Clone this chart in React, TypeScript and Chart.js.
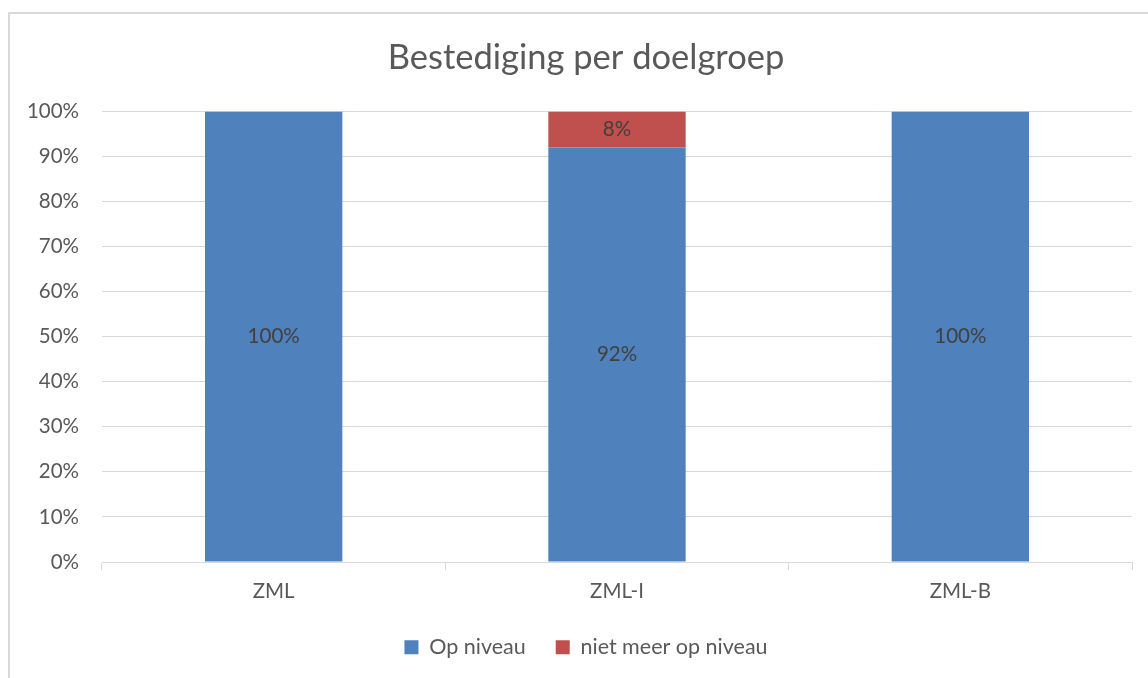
import React, { useEffect, useRef } from "react";
import { Chart, registerables } from "chart.js";

Chart.register(...registerables);

const categories = ["ZML", "ZML-I", "ZML-B"];
const opNiveau = [100, 92, 100];
const nietMeerOpNiveau = [0, 8, 0];
const seriesNames = ["Op niveau", "niet meer op niveau"];
const chartTitle = "Bestediging per doelgroep";

const FONT = "Lato, 'Open Sans', sans-serif";
const TEXT = "#595959";
const GRID = "#d9d9d9";
const FS = 20.5;

const valueLabels = {
  id: "valueLabels",
  afterDatasetsDraw(chart: any) {
    const ctx = chart.ctx;
    ctx.save();
    ctx.font = `${FS}px ${FONT}`;
    ctx.fillStyle = "#404040";
    ctx.textAlign = "center";
    ctx.textBaseline = "middle";
    chart.data.datasets.forEach((ds: any, di: number) => {
      const meta = chart.getDatasetMeta(di);
      meta.data.forEach((el: any, i: number) => {
        const v = ds.data[i];
        if (!v) return;
        ctx.fillText(Math.round(v) + "%", el.x, (el.y + el.base) / 2);
      });
    });
    ctx.restore();
  },
};

export default function App() {
  const ref = useRef<HTMLCanvasElement | null>(null);
  useEffect(() => {
    if (!ref.current) return;
    const chart = new Chart(ref.current, {
      type: "bar",
      data: {
        labels: categories,
        datasets: [
          { label: seriesNames[0], data: opNiveau, backgroundColor: "#4f81bd", barPercentage: 0.4, categoryPercentage: 1 },
          { label: seriesNames[1], data: nietMeerOpNiveau, backgroundColor: "#c0504d", barPercentage: 0.4, categoryPercentage: 1 },
        ],
      },
      options: {
        responsive: false,
        animation: false,
        layout: { padding: { left: 0, right: 0, top: 0, bottom: 10 } },
        plugins: {
          title: {
            display: true,
            text: chartTitle,
            color: TEXT,
            font: { family: FONT, size: 34.5, weight: "normal" },
            padding: { top: 37, bottom: 33 },
          },
          legend: {
            position: "bottom",
            labels: {
              color: TEXT,
              font: { family: FONT, size: 21.5 },
              boxWidth: 14,
              boxHeight: 14,
              padding: 30,
            },
          },
          tooltip: { enabled: false },
        },
        scales: {
          x: {
            stacked: true,
            offset: true,
            grid: { offset: true, drawOnChartArea: false, drawTicks: true, tickLength: 8, color: GRID },
            border: { color: GRID, width: 1 },
            ticks: { color: TEXT, font: { family: FONT, size: FS }, padding: 9 },
            afterFit: (s: any) => { s.height = 44.5; },
          },
          y: {
            stacked: true,
            min: 0,
            max: 100,
            grid: { color: GRID, drawTicks: false },
            border: { display: false },
            ticks: {
              stepSize: 10,
              color: TEXT,
              font: { family: FONT, size: FS },
              padding: 23,
              callback: (v: any) => v + "%",
            },
            afterFit: (s: any) => { s.width = 102; },
          },
          yRightSpace: {
            type: "linear",
            position: "right",
            display: true,
            min: 0,
            max: 100,
            grid: { display: false },
            border: { display: false },
            ticks: { display: false },
            afterFit: (s: any) => { s.width = 40; },
          },
        },
      },
      plugins: [valueLabels],
    });
    return () => chart.destroy();
  }, []);
  return (
    <div style={{ position: "absolute", left: 0, top: 0, width: 1148, height: 678, overflow: "hidden", background: "#fff" }}>
      <div style={{ position: "absolute", left: 8, top: 12, width: 1200, height: 720, border: `2px solid ${GRID}`, boxSizing: "border-box" }} />
      <canvas ref={ref} width={1172} height={678} style={{ position: "absolute", left: 0, top: 0 }} />
    </div>
  );
}
